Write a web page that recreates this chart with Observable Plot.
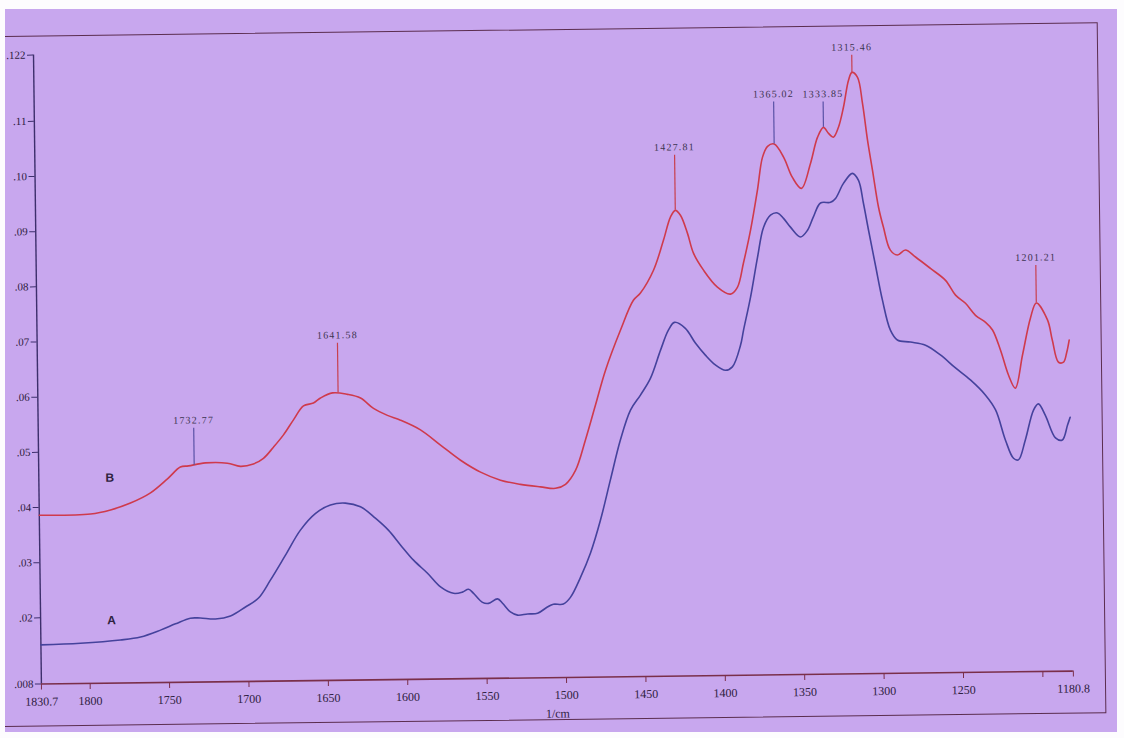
<!DOCTYPE html>
<html>
<head>
<meta charset="utf-8">
<script src="https://cdn.jsdelivr.net/npm/d3@7"></script>
<script src="https://cdn.jsdelivr.net/npm/@observablehq/plot@0.6"></script>
<style>
  html, body { margin: 0; padding: 0; background: #ffffff; }
  #page { position: relative; width: 1124px; height: 738px; overflow: hidden; background: #fdfcfe; }
  #photo { position: absolute; left: 5px; top: 9px; width: 1112px; height: 723px; background: #c8a7ee; overflow: hidden; }
  #rot { position: absolute; left: -5px; top: -9px; width: 1124px; height: 738px; transform-origin: 560px 369px; transform: rotate(-0.72deg); }
  #frame { position: absolute; left: -30px; top: 29px; width: 1132px; height: 691px; border: 1.6px solid #5b2d4f; box-sizing: border-box; }
  #chart { position: absolute; left: 0; top: 0; }
  .peaklbl { letter-spacing: 1.2px; }
</style>
</head>
<body>
<div id="page">
  <div id="photo">
    <div id="rot">
      <div id="frame"></div>
      <div id="chart"></div>
    </div>
  </div>
</div>
<script>
// ---- Spectrum B (upper, red) ----
const wavenumberB = [1830.7, 1798.4, 1785.8, 1773.2, 1760.5, 1749.7, 1741.5, 1736.4, 1725.7, 1711.8, 1703.7, 1695.5, 1689.1, 1682.7, 1676.3, 1669.9, 1663.5, 1657.2, 1652.7, 1645.1, 1635.7, 1627.5, 1619.4, 1610.7, 1602.5, 1590.0, 1577.5, 1565.0, 1552.5, 1540.0, 1527.5, 1514.9, 1505.4, 1499.1, 1492.7, 1486.2, 1479.6, 1473.0, 1463.3, 1454.9, 1450.4, 1442.0, 1435.5, 1430.9, 1427.8, 1424.6, 1420.3, 1416.7, 1410.5, 1401.9, 1393.7, 1389.3, 1385.3, 1380.6, 1375.9, 1372.5, 1369.2, 1365.0, 1359.2, 1353.8, 1348.2, 1342.3, 1337.7, 1333.85, 1330.7, 1327.7, 1324.4, 1321.1, 1317.7, 1315.46, 1312.0, 1309.1, 1306.2, 1303.3, 1299.8, 1296.9, 1292.7, 1288.3, 1283.2, 1276.9, 1267.6, 1258.2, 1252.0, 1245.8, 1239.6, 1233.3, 1229.0, 1224.1, 1219.3, 1215.1, 1210.3, 1205.0, 1201.2, 1194.3, 1191.4, 1187.7, 1184.5, 1182.5, 1180.8];
const absorbanceB = [0.0386, 0.0387, 0.0394, 0.0406, 0.0424, 0.0449, 0.0470, 0.0472, 0.0477, 0.0476, 0.0470, 0.0474, 0.0484, 0.0504, 0.0526, 0.0553, 0.0578, 0.0583, 0.0592, 0.0601, 0.0598, 0.0591, 0.0572, 0.0559, 0.0550, 0.0532, 0.0504, 0.0476, 0.0454, 0.0439, 0.0431, 0.0426, 0.0423, 0.0430, 0.0455, 0.0510, 0.0573, 0.0636, 0.0708, 0.0762, 0.0775, 0.0816, 0.0870, 0.0912, 0.0924, 0.0915, 0.0882, 0.0846, 0.0815, 0.0784, 0.0771, 0.0783, 0.0827, 0.0886, 0.0959, 0.1018, 0.1038, 0.1042, 0.1018, 0.0981, 0.0961, 0.1006, 0.1053, 0.1071, 0.1060, 0.1053, 0.1071, 0.1107, 0.1156, 0.1170, 0.1161, 0.1114, 0.1047, 0.0992, 0.0925, 0.0889, 0.0847, 0.0838, 0.0847, 0.0834, 0.0813, 0.0791, 0.0764, 0.0749, 0.0727, 0.0714, 0.0700, 0.0663, 0.0618, 0.0594, 0.0654, 0.0721, 0.0748, 0.0717, 0.0680, 0.0640, 0.0640, 0.0657, 0.0680];

// ---- Spectrum A (lower, blue) ----
const wavenumberA = [1830.7, 1805.8, 1780.6, 1767.9, 1755.3, 1745.8, 1736.4, 1730.1, 1720.6, 1711.1, 1701.6, 1693.3, 1685.7, 1676.0, 1666.4, 1656.7, 1647.3, 1637.9, 1628.4, 1619.1, 1611.0, 1603.5, 1595.4, 1586.7, 1578.6, 1570.5, 1564.9, 1561.0, 1558.0, 1552.3, 1548.5, 1542.8, 1539.7, 1534.8, 1530.3, 1524.0, 1517.7, 1511.5, 1507.7, 1501.4, 1496.9, 1490.4, 1483.9, 1477.4, 1470.8, 1464.2, 1457.6, 1451.2, 1444.8, 1438.2, 1433.1, 1429.2, 1422.4, 1416.2, 1410.0, 1403.8, 1397.5, 1393.1, 1387.8, 1385.8, 1381.1, 1376.4, 1372.4, 1367.9, 1363.5, 1359.7, 1355.4, 1349.2, 1344.7, 1340.9, 1336.3, 1330.0, 1326.8, 1321.7, 1316.0, 1312.2, 1309.3, 1306.3, 1302.2, 1298.1, 1293.3, 1289.0, 1280.8, 1271.3, 1262.0, 1252.6, 1243.3, 1233.9, 1227.7, 1221.7, 1216.8, 1213.7, 1209.2, 1203.8, 1200.7, 1196.4, 1190.2, 1185.9, 1182.5, 1180.8];
const absorbanceA = [0.0151, 0.0153, 0.0158, 0.0163, 0.0175, 0.0186, 0.0196, 0.0196, 0.0194, 0.0199, 0.0215, 0.0231, 0.0263, 0.0308, 0.0353, 0.0383, 0.0398, 0.0401, 0.0394, 0.0373, 0.0351, 0.0324, 0.0296, 0.0272, 0.0247, 0.0235, 0.0237, 0.0242, 0.0235, 0.0218, 0.0216, 0.0224, 0.0216, 0.0200, 0.0194, 0.0196, 0.0197, 0.0208, 0.0213, 0.0213, 0.0225, 0.0261, 0.0305, 0.0364, 0.0437, 0.0509, 0.0563, 0.0590, 0.0620, 0.0671, 0.0707, 0.0721, 0.0710, 0.0683, 0.0661, 0.0643, 0.0633, 0.0639, 0.0678, 0.0705, 0.0765, 0.0837, 0.0891, 0.0913, 0.0917, 0.0907, 0.0891, 0.0873, 0.0885, 0.0909, 0.0934, 0.0935, 0.0942, 0.0969, 0.0987, 0.0974, 0.0933, 0.0884, 0.0820, 0.0757, 0.0702, 0.0684, 0.0680, 0.0674, 0.0656, 0.0632, 0.0610, 0.0582, 0.0555, 0.0500, 0.0467, 0.0464, 0.0500, 0.0554, 0.0565, 0.0544, 0.0503, 0.0499, 0.0526, 0.0540];

// ---- Peak annotations (on spectrum B) ----
const peakWavenumbers = [1732.77, 1641.58, 1427.81, 1365.02, 1333.85, 1315.46, 1201.21];
const peakLabels      = ["1732.77", "1641.58", "1427.81", "1365.02", "1333.85", "1315.46", "1201.21"];
const peakBaseValues  = [0.0473, 0.0601, 0.0924, 0.1042, 0.1071, 0.1170, 0.0748];
const peakTopValues   = [0.0540, 0.0691, 0.1024, 0.1118, 0.1117, 0.1201, 0.0816];

// ---- Series labels ----
const seriesNames = ["A", "B"];
const seriesLabelWavenumbers = [1786, 1786];
const seriesLabelValues = [0.0194, 0.0452];

// ---- Axis ticks ----
const xTicks = [1830.7, 1800, 1750, 1700, 1650, 1600, 1550, 1500, 1450, 1400, 1350, 1300, 1250, 1200, 1180.8];
const xTickLabels = ["1830.7", "1800", "1750", "1700", "1650", "1600", "1550", "1500", "1450", "1400", "1350", "1300", "1250", "", "1180.8"];
const yTicks = [0.122, 0.11, 0.10, 0.09, 0.08, 0.07, 0.06, 0.05, 0.04, 0.03, 0.02, 0.008];
const yTickLabels = [".122", ".11", ".10", ".09", ".08", ".07", ".06", ".05", ".04", ".03", ".02", ".008"];
const xAxisLabel = "1/cm";

// ---- build tables ----
const dataB = wavenumberB.map((w, i) => ({w, v: absorbanceB[i]}));
const dataA = wavenumberA.map((w, i) => ({w, v: absorbanceA[i]}));
const peaks = peakWavenumbers.map((w, i) => ({w, label: peakLabels[i], base: peakBaseValues[i], top: peakTopValues[i]}));
const seriesTags = seriesNames.map((s, i) => ({s, w: seriesLabelWavenumbers[i], v: seriesLabelValues[i]}));
const xLabelMap = new Map(xTicks.map((t, i) => [t, xTickLabels[i]]));
const yLabelMap = new Map(yTicks.map((t, i) => [t, yTickLabels[i]]));

const RED = "#cf3a4c";
const BLUE = "#45429c";
const AXIS_X = "#7a2f4a";
const AXIS_Y = "#3d2f6c";
const TEXT = "#2e2040";
const bluePeaks = new Set([1732.77, 1365.02, 1333.85]);

const chart = Plot.plot({
  width: 1124,
  height: 738,
  marginLeft: 37,
  marginRight: 55,
  marginTop: 48,
  marginBottom: 61,
  style: {background: "transparent", fontFamily: "'Liberation Serif', serif", fontSize: "12px", color: TEXT, overflow: "visible"},
  x: {domain: [1830.7, 1180.8]},
  y: {domain: [0.008, 0.122]},
  marks: [
    Plot.ruleX([1830.7], {stroke: AXIS_Y, strokeWidth: 1.4}),
    Plot.ruleY([0.008], {stroke: AXIS_X, strokeWidth: 1.6}),
    Plot.axisX({ticks: xTicks, tickFormat: d => xLabelMap.get(d), tickSize: 6, tickPadding: 7, stroke: AXIS_X, fill: TEXT, fontSize: 12, label: null}),
    Plot.axisY({ticks: yTicks, tickFormat: d => yLabelMap.get(d), tickSize: 6, tickPadding: 2, stroke: AXIS_Y, fill: TEXT, fontSize: 11, label: null}),
    Plot.text([xAxisLabel], {frameAnchor: "bottom", dy: 40, fill: TEXT, fontSize: 12, fontFamily: "'Liberation Serif', serif"}),
    Plot.line(dataA, {x: "w", y: "v", stroke: BLUE, strokeWidth: 1.6, curve: "catmull-rom"}),
    Plot.line(dataB, {x: "w", y: "v", stroke: RED, strokeWidth: 1.6, curve: "catmull-rom"}),
    Plot.ruleX(peaks, {x: "w", y1: "base", y2: "top", stroke: d => bluePeaks.has(d.w) ? "#5a52a6" : "#c8404e", strokeWidth: 1.2}),
    Plot.text(peaks, {x: "w", y: "top", text: "label", dy: -8, fill: "#3c3450", fontSize: 10, fontFamily: "'Liberation Serif', serif", className: "peaklbl"}),
    Plot.text(seriesTags, {x: "w", y: "v", text: "s", fill: "#2e2240", fontSize: 12, fontWeight: "bold", fontFamily: "'Liberation Sans', sans-serif"})
  ]
});
document.getElementById("chart").appendChild(chart);
</script>
</body>
</html>
